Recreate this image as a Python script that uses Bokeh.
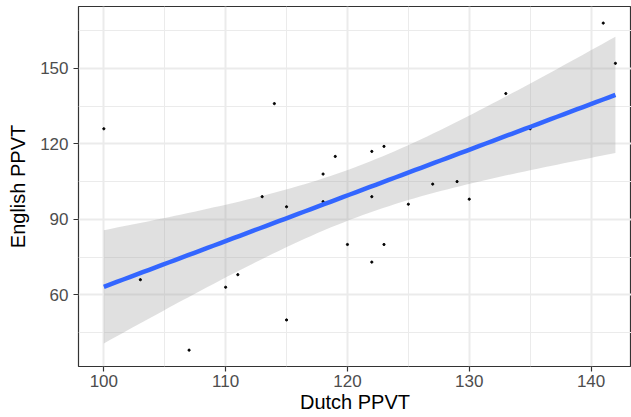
import numpy as np
from bokeh.plotting import figure
from bokeh.models import Range1d, FixedTicker, ColumnDataSource
from bokeh.embed import file_html
from bokeh.resources import INLINE

# Data
dutch_ppvt = [100, 103, 107, 110, 111, 113, 114, 115, 115, 118, 118, 119, 120,
              122, 122, 122, 123, 123, 125, 127, 129, 130, 133, 135, 141, 142]
english_ppvt = [126, 66, 38, 63, 68, 99, 136, 95, 50, 108, 97, 115, 80,
                117, 99, 73, 119, 80, 96, 104, 105, 98, 140, 126, 168, 152]
x_ticks = [100, 110, 120, 130, 140]
y_ticks = [60, 90, 120, 150]
x_minor = [105, 115, 125, 135]
y_minor = [45, 75, 105, 135, 165]

x = np.array(dutch_ppvt, dtype=float)
y = np.array(english_ppvt, dtype=float)
n = len(x)
xbar, ybar = x.mean(), y.mean()
sxx = ((x - xbar) ** 2).sum()
b1 = ((x - xbar) * (y - ybar)).sum() / sxx
b0 = ybar - b1 * xbar
resid = y - (b0 + b1 * x)
s = np.sqrt((resid ** 2).sum() / (n - 2))
t_crit = 2.0639  # t(0.975, df=24)
xs = np.linspace(x.min(), x.max(), 80)
fit = b0 + b1 * xs
se = s * np.sqrt(1.0 / n + (xs - xbar) ** 2 / sxx)
lower = fit - t_crit * se
upper = fit + t_crit * se

FONT = "Liberation Sans"

p = figure(width=631, height=417, output_backend="svg", toolbar_location=None,
           x_range=Range1d(97.92, 143.32), y_range=Range1d(31.5, 174.6),
           min_border_left=78, min_border_right=0, min_border_top=6,
           min_border_bottom=51)
p.background_fill_color = "white"
p.border_fill_color = "white"
p.outline_line_color = "#333333"
p.outline_line_width = 1.2

for ax in (p.xaxis[0], p.yaxis[0]):
    ax.major_label_text_font = FONT
    ax.major_label_text_font_size = "17px"
    ax.major_label_text_color = "#4D4D4D"
    ax.axis_label_text_font = FONT
    ax.axis_label_text_font_size = "20px"
    ax.axis_label_text_font_style = "normal"
    ax.axis_label_text_color = "black"
    ax.axis_line_color = None
    ax.major_tick_line_color = "#333333"
    ax.major_tick_line_width = 1.2
    ax.major_tick_out = 5
    ax.major_tick_in = 0
    ax.minor_tick_line_color = None

p.xaxis.ticker = FixedTicker(ticks=x_ticks, minor_ticks=x_minor)
p.yaxis.ticker = FixedTicker(ticks=y_ticks, minor_ticks=y_minor)
p.xaxis.axis_label = "Dutch PPVT"
p.yaxis.axis_label = "English PPVT"
p.xaxis.major_label_standoff = 3
p.yaxis.major_label_standoff = 5
p.xaxis.axis_label_standoff = 1
p.yaxis.axis_label_standoff = 8

for g in (p.xgrid[0], p.ygrid[0]):
    g.grid_line_color = "#EBEBEB"
    g.grid_line_width = 2
    g.minor_grid_line_color = "#EBEBEB"
    g.minor_grid_line_width = 1

band = ColumnDataSource(dict(x=xs, lower=lower, upper=upper))
p.varea(x="x", y1="lower", y2="upper", source=band,
        fill_color="#999999", fill_alpha=0.3)
p.scatter(dutch_ppvt, english_ppvt, size=2.2, color="black")
p.line(xs, fit, line_color="#3366FF", line_width=4.5)

open("out.html", "w").write(file_html(p, INLINE))
